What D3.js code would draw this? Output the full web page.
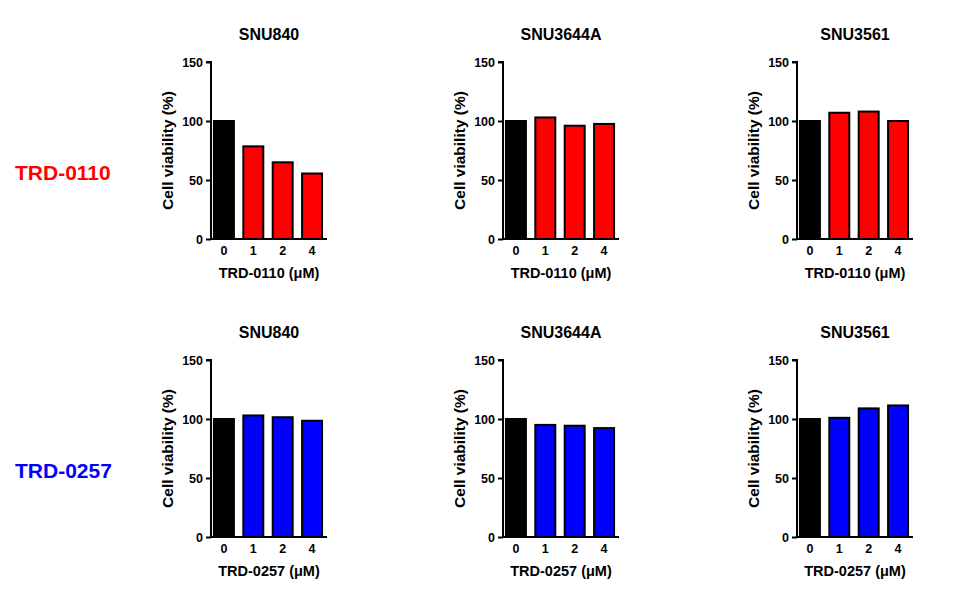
<!DOCTYPE html>
<html><head><meta charset="utf-8">
<script src="https://cdn.jsdelivr.net/npm/d3@7"></script>
<style>
body{margin:0;background:#fff;}
text{font-family:Arial,"Liberation Sans",sans-serif;font-weight:bold;}
</style></head>
<body>
<svg id="c" width="968" height="605"></svg>
<script>
const doses = ["0","1","2","4"];
const cellLines = ["SNU840","SNU3644A","SNU3561"];
const compounds = ["TRD-0110","TRD-0257"];
const compoundColors = ["#ff0000","#0000ff"];
const yTicks = [0,50,100,150];
// values[compound][cellLine] = viability per dose
const trd0110 = [
  [100, 78.5, 65, 55.5],
  [100, 103, 96, 97.5],
  [100, 107, 108, 100]
];
const trd0257 = [
  [100, 103, 101.5, 98.5],
  [100, 95, 94.3, 92.3],
  [100, 101, 109, 111.5]
];
const values = [trd0110, trd0257];

const svg = d3.select("#c");
const colX = [211, 503, 797];
const rowTop = [62, 360];
const plotH = 177, plotW = 116;

compounds.forEach((comp, r) => {
  svg.append("text").attr("x", 15).attr("y", rowTop[r] + 118)
    .attr("font-size", 21).attr("fill", compoundColors[r]).text(comp);

  cellLines.forEach((cl, c) => {
    const x0 = colX[c], y0 = rowTop[r];
    const g = svg.append("g");
    const y = d3.scaleLinear().domain([0,150]).range([y0 + plotH, y0]);
    const x = d3.scaleBand().domain(doses).range([x0, x0 + 114]).paddingInner(0.32).paddingOuter(0.1);

    g.selectAll("rect").data(values[r][c]).join("rect")
      .attr("x", (d,i) => x(doses[i]))
      .attr("width", x.bandwidth())
      .attr("y", d => y(d))
      .attr("height", d => y(0) - y(d))
      .attr("fill", (d,i) => i === 0 ? "#000" : compoundColors[r])
      .attr("stroke", "#000").attr("stroke-width", 2);

    // y axis
    const ya = g.append("g").attr("transform", `translate(${x0},0)`)
      .call(d3.axisLeft(y).tickValues(yTicks).tickSize(5).tickPadding(3));
    ya.select(".domain").attr("stroke-width", 2).attr("d", `M-5,${y(150)}H0V${y(0)}`);
    ya.selectAll(".tick line").attr("stroke-width", 2);
    ya.selectAll(".tick text").attr("font-size", 12.5).attr("font-family", "Arial, Liberation Sans, sans-serif").attr("font-weight", "bold").attr("fill","#000");

    // x axis
    const xa = g.append("g").attr("transform", `translate(0,${y(0)})`)
      .call(d3.axisBottom(x).tickSize(0).tickPadding(7));
    xa.select(".domain").attr("stroke-width", 2).attr("d", `M${x0-1},0H${x0 + plotW}`);
    xa.selectAll(".tick text").attr("font-size", 12.5).attr("font-family", "Arial, Liberation Sans, sans-serif").attr("font-weight", "bold").attr("fill","#000");

    const cx = x0 + plotW / 2;
    g.append("text").attr("x", cx).attr("y", y0 - 22).attr("text-anchor", "middle")
      .attr("font-size", 16).text(cl);
    g.append("text").attr("x", cx).attr("y", y0 + plotH + 39).attr("text-anchor", "middle")
      .attr("font-size", 14.5).text(comp + " (\u03bcM)");
    g.append("text").attr("transform", `translate(${x0 - 38},${y0 + plotH/2}) rotate(-90)`)
      .attr("text-anchor", "middle").attr("font-size", 15.5).text("Cell viability (%)");
  });
});
</script>
</body></html>
